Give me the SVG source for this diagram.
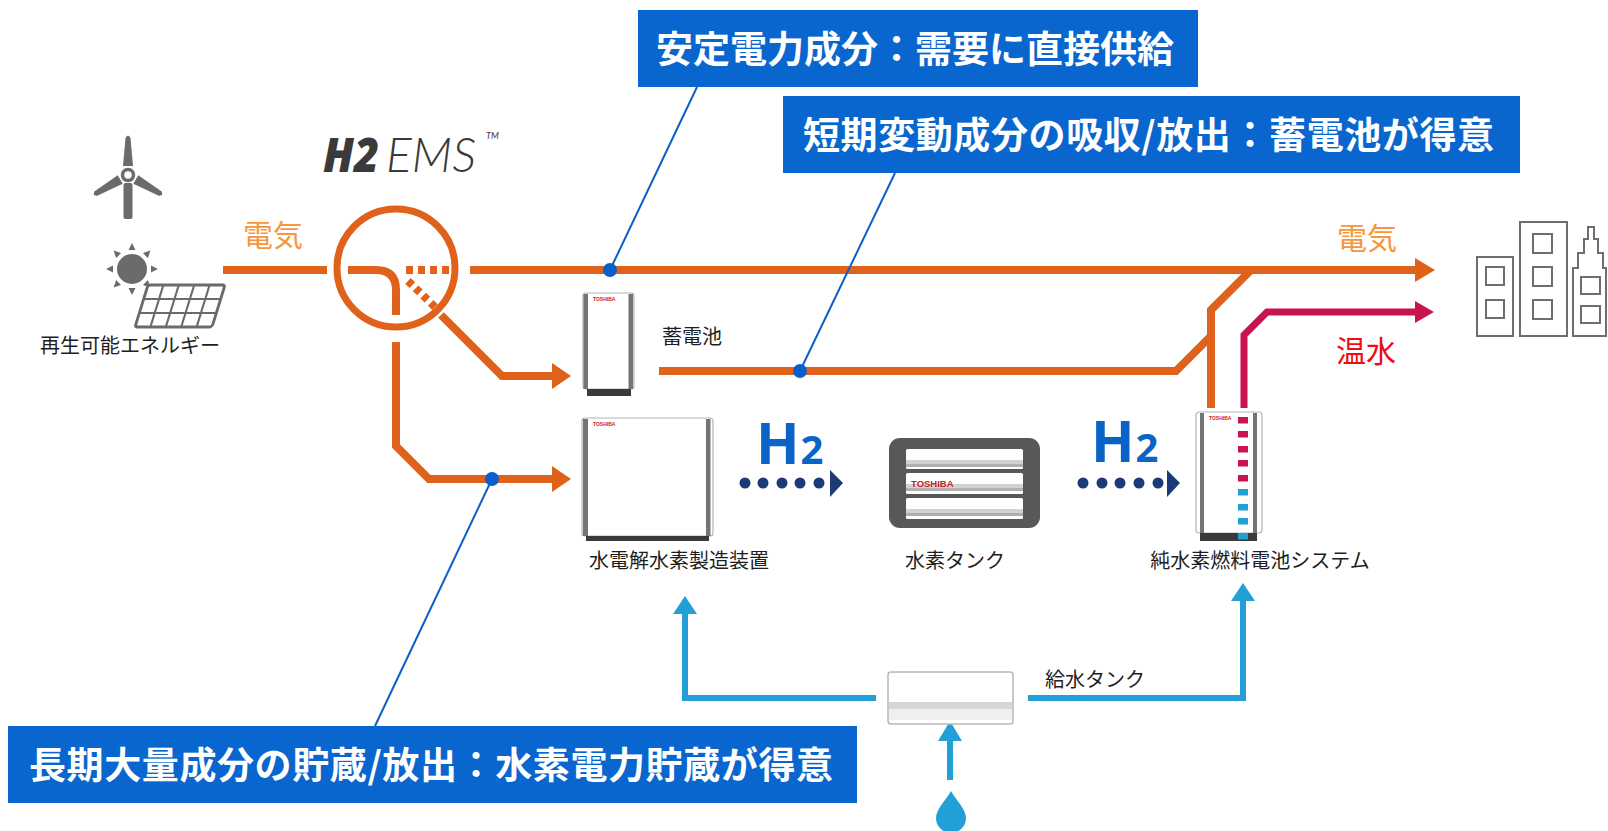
<svg xmlns="http://www.w3.org/2000/svg" width="1608" height="831" viewBox="0 0 1608 831">
  <style>
    .jp { font-family: "Noto Sans CJK JP", "Noto Sans", sans-serif; }
    .lbl { font-family: "Noto Sans CJK JP", sans-serif; font-size: 20px; fill: #1e1e1e; }
    .call { font-family: "Noto Sans CJK JP", sans-serif; font-size: 37px; font-weight: 700; fill: #ffffff; }
    .callbox { fill: #0966ce; }
    .callline { stroke: #0a5fc8; stroke-width: 2; fill: none; }
    .calldot { fill: #0a5fc8; }
    .elec { stroke: #e0621a; stroke-width: 8; fill: none; stroke-linejoin: miter; }
    .elecfill { fill: #e0621a; }
    .hot { stroke: #c8154e; stroke-width: 7; fill: none; }
    .hotfill { fill: #c8154e; }
    .water { stroke: #239fd8; stroke-width: 6; fill: none; }
    .waterfill { fill: #239fd8; }
    .icon { fill: #6b6b6b; }
    .bld { fill: #ffffff; stroke: #6e6e6e; stroke-width: 2; }
    .unit { fill: #ffffff; stroke: #b4b4b4; stroke-width: 1.2; }
    .strip { fill: #747474; }
    .base { fill: #3a3a3a; }
    .logo { font-family: "Liberation Sans", Arial, sans-serif; font-size: 5px; font-weight: 700; fill: #d0202a; }
    .h2 { font-family: "Noto Sans", "Open Sans", sans-serif; font-weight: 700; fill: #0a64c8; }
    .flow { fill: #1b3a78; }
  </style>

  <!-- connectors -->
  <g id="connectors">
    <!-- electricity in -->
    <line class="elec" x1="223" y1="270" x2="327" y2="270"/>
    <!-- electricity to demand -->
    <line class="elec" x1="470" y1="270" x2="1416" y2="270"/>
    <polygon class="elecfill" points="1415,258 1435,270 1415,282"/>
    <!-- to battery -->
    <polyline class="elec" points="441,315 502,376 553,376"/>
    <polygon class="elecfill" points="552,363 571,376 552,389"/>
    <!-- to electrolyzer -->
    <polyline class="elec" points="396,342 396,446 429,479 553,479"/>
    <polygon class="elecfill" points="552,466 571,479 552,492"/>
    <!-- battery output -->
    <polyline class="elec" points="659,371 1176,371 1211,336"/>
    <!-- fuel cell electricity -->
    <polyline class="elec" points="1211,408 1211,310 1251,270"/>
    <!-- fuel cell hot water -->
    <polyline class="hot" points="1244,408 1244,335 1267,312 1416,312"/>
    <polygon class="hotfill" points="1415,301 1434,312 1415,323"/>

    <!-- water supply -->
    <polyline class="water" points="876,698 685,698 685,612"/>
    <polygon class="waterfill" points="673,614 685,596 697,614"/>
    <polyline class="water" points="1028,698 1243,698 1243,599"/>
    <polygon class="waterfill" points="1231,601 1243,583 1255,601"/>
    <line class="water" x1="950" y1="780" x2="950" y2="739"/>
    <polygon class="waterfill" points="938,741 950,721 962,741"/>

    <!-- hydrogen flows -->
    <g class="flow">
      <circle cx="745" cy="483" r="5.5"/>
      <circle cx="763" cy="483" r="5.5"/>
      <circle cx="782" cy="483" r="5.5"/>
      <circle cx="800" cy="483" r="5.5"/>
      <circle cx="819" cy="483" r="5.5"/>
      <polygon points="830,470 843,483 830,497"/>
      <circle cx="1083" cy="483" r="5.5"/>
      <circle cx="1102" cy="483" r="5.5"/>
      <circle cx="1120" cy="483" r="5.5"/>
      <circle cx="1139" cy="483" r="5.5"/>
      <circle cx="1158" cy="483" r="5.5"/>
      <polygon points="1167,470 1180,483 1167,497"/>
    </g>
    <text class="h2" x="756" y="464"><tspan font-size="57">H</tspan><tspan font-size="40" dx="1">2</tspan></text>
    <text class="h2" x="1091" y="462"><tspan font-size="57">H</tspan><tspan font-size="40" dx="1">2</tspan></text>

    <!-- labels on lines -->
    <text class="jp" x="243" y="246" font-size="30" fill="#f7963c">電気</text>
    <text class="jp" x="1337" y="249" font-size="30" fill="#f7963c">電気</text>
    <text class="jp" x="1336" y="362" font-size="30" fill="#f00a14">温水</text>
    <text class="lbl" x="1045" y="687" font-size="18">給水タンク</text>

    <!-- callout leaders -->
    <line class="callline" x1="697" y1="87" x2="610" y2="270"/>
    <circle class="calldot" cx="610" cy="270" r="7"/>
    <line class="callline" x1="895" y1="173" x2="800" y2="371"/>
    <circle class="calldot" cx="800" cy="371" r="7"/>
    <line class="callline" x1="375" y1="726" x2="492" y2="479"/>
    <circle class="calldot" cx="492" cy="479" r="7"/>
  </g>

  <!-- renewable sources -->
  <g id="renewable">
    <rect class="icon" x="123.5" y="183" width="9" height="36" rx="2"/>
    <g transform="translate(128,175)">
      <path class="icon" d="M-5,-9 L-2.5,-37 Q0,-42 2.5,-37 L5,-9 Z"/>
      <path class="icon" d="M-5,-9 L-2.5,-37 Q0,-42 2.5,-37 L5,-9 Z" transform="rotate(120)"/>
      <path class="icon" d="M-5,-9 L-2.5,-37 Q0,-42 2.5,-37 L5,-9 Z" transform="rotate(-120)"/>
      <circle r="5.5" fill="#ffffff" stroke="#6b6b6b" stroke-width="3.5"/>
    </g>
    <g transform="translate(132,269)">
      <circle class="icon" r="15"/>
      <g class="icon">
        <polygon points="-3.5,-19 3.5,-19 0,-26"/>
        <polygon points="-3.5,-19 3.5,-19 0,-26" transform="rotate(45)"/>
        <polygon points="-3.5,-19 3.5,-19 0,-26" transform="rotate(90)"/>
        <polygon points="-3.5,-19 3.5,-19 0,-26" transform="rotate(135)"/>
        <polygon points="-3.5,-19 3.5,-19 0,-26" transform="rotate(180)"/>
        <polygon points="-3.5,-19 3.5,-19 0,-26" transform="rotate(225)"/>
        <polygon points="-3.5,-19 3.5,-19 0,-26" transform="rotate(270)"/>
        <polygon points="-3.5,-19 3.5,-19 0,-26" transform="rotate(315)"/>
      </g>
    </g>
    <g transform="translate(135,327) skewX(-17.2)">
      <rect x="0" y="-42" width="77" height="42" rx="2.5" fill="#ffffff" stroke="#6b6b6b" stroke-width="3"/>
      <g fill="none" stroke="#6b6b6b" stroke-width="2.2">
        <line x1="15.4" y1="-42" x2="15.4" y2="0"/>
        <line x1="30.8" y1="-42" x2="30.8" y2="0"/>
        <line x1="46.2" y1="-42" x2="46.2" y2="0"/>
        <line x1="61.6" y1="-42" x2="61.6" y2="0"/>
        <line x1="0" y1="-28" x2="77" y2="-28"/>
        <line x1="0" y1="-14" x2="77" y2="-14"/>
      </g>
    </g>
    <text class="lbl" x="130" y="353" font-size="19" text-anchor="middle">再生可能エネルギー</text>
  </g>

  <!-- energy management switch -->
  <g id="h2ems">
    <text x="323" y="172" font-family="'Open Sans', Lato, sans-serif" font-style="italic" font-weight="800" font-size="48" fill="#3a3a3a" textLength="56" lengthAdjust="spacingAndGlyphs">H2</text>
    <text x="386" y="172" font-family="Lato, 'Open Sans', sans-serif" font-style="italic" font-weight="300" font-size="48" fill="#3a3a3a" textLength="90" lengthAdjust="spacingAndGlyphs">EMS</text>
    <text x="486" y="139" font-family="Lato, 'Liberation Sans', sans-serif" font-style="italic" font-size="9" fill="#3a3a3a">TM</text>
    <circle cx="396" cy="268" r="59" fill="none" stroke="#e0621a" stroke-width="7"/>
    <path class="elec" d="M348,270 H376 Q396,270 396,290 V315"/>
    <line x1="406" y1="270" x2="453" y2="270" stroke="#e0621a" stroke-width="8" stroke-dasharray="7,5"/>
    <line x1="408" y1="281" x2="436" y2="308" stroke="#e0621a" stroke-width="8" stroke-dasharray="6,4.5"/>
  </g>

  <!-- storage battery -->
  <g id="battery">
    <rect class="unit" x="583" y="293" width="51" height="96" rx="3"/>
    <rect class="strip" x="583.5" y="294" width="4.5" height="95"/>
    <rect class="strip" x="628.5" y="294" width="4.5" height="95"/>
    <rect class="base" x="587" y="389" width="44" height="7"/>
    <text class="logo" x="593" y="301">TOSHIBA</text>
    <text class="lbl" x="662" y="344">蓄電池</text>
  </g>

  <!-- electrolyzer -->
  <g id="electrolyzer">
    <rect class="unit" x="582" y="418" width="131" height="118" rx="3"/>
    <rect class="strip" x="583" y="419" width="5" height="117"/>
    <rect class="strip" x="706" y="419" width="4.5" height="117"/>
    <rect class="base" x="586" y="536" width="123" height="5"/>
    <text class="logo" x="593" y="426">TOSHIBA</text>
    <text class="lbl" x="679" y="568" text-anchor="middle">水電解水素製造装置</text>
  </g>

  <!-- hydrogen tank -->
  <g id="h2tank">
    <rect x="889" y="438" width="151" height="90" rx="11" fill="#5a5856"/>
    <g>
      <rect x="906" y="449" width="117" height="20" rx="1.5" fill="#ffffff"/>
      <rect x="906" y="460" width="117" height="4" fill="#d2d2d2"/>
      <rect x="906" y="464" width="117" height="3" fill="#b0b0b0"/>
      <rect x="906" y="473" width="117" height="21" rx="1.5" fill="#ffffff"/>
      <rect x="906" y="484" width="117" height="4" fill="#d2d2d2"/>
      <rect x="906" y="488" width="117" height="3" fill="#b0b0b0"/>
      <rect x="906" y="498" width="117" height="21" rx="1.5" fill="#ffffff"/>
      <rect x="906" y="509" width="117" height="4" fill="#d2d2d2"/>
      <rect x="906" y="513" width="117" height="3" fill="#b0b0b0"/>
    </g>
    <text x="911" y="487" font-family="'Liberation Sans', Arial, sans-serif" font-size="9.5" font-weight="700" fill="#c8202a">TOSHIBA</text>
    <text class="lbl" x="955" y="568" text-anchor="middle">水素タンク</text>
  </g>

  <!-- fuel cell system -->
  <g id="fuelcell">
    <rect class="unit" x="1196" y="412" width="66" height="121" rx="3"/>
    <rect class="strip" x="1200" y="413" width="4" height="120"/>
    <rect class="strip" x="1253" y="413" width="4" height="120"/>
    <rect class="base" x="1200" y="533" width="57" height="8"/>
    <text class="logo" x="1209" y="420">TOSHIBA</text>
    <g class="hotfill">
      <rect x="1238" y="417" width="10" height="6.5"/>
      <rect x="1238" y="431" width="10" height="6.5"/>
      <rect x="1238" y="446" width="10" height="6.5"/>
      <rect x="1238" y="460" width="10" height="6.5"/>
      <rect x="1238" y="475" width="10" height="6.5"/>
    </g>
    <g class="waterfill">
      <rect x="1238" y="489" width="10" height="6.5"/>
      <rect x="1238" y="504" width="10" height="6.5"/>
      <rect x="1238" y="518" width="10" height="6.5"/>
      <rect x="1238" y="533" width="10" height="6.5"/>
    </g>
    <text class="lbl" x="1260" y="568" text-anchor="middle">純水素燃料電池システム</text>
  </g>

  <!-- water supply tank -->
  <g id="watertank">
    <rect x="888" y="672" width="125" height="52" rx="3" fill="#ffffff" stroke="#b8b8b8" stroke-width="1.5"/>
    <rect x="889" y="702" width="123" height="7" fill="#d6d6d6"/>
    <rect x="889" y="709" width="123" height="11" fill="#efefef"/>
    <path class="waterfill" d="M951,791 C946,800 936,809 936,818 A15,15 0 0 0 966,818 C966,809 956,800 951,791 Z"/>
  </g>

  <!-- demand side buildings -->
  <g id="buildings">
    <rect class="bld" x="1477" y="257" width="36" height="79"/>
    <rect class="bld" x="1486" y="267" width="18" height="18"/>
    <rect class="bld" x="1486" y="300" width="18" height="18"/>
    <rect class="bld" x="1520" y="222" width="47" height="114"/>
    <rect class="bld" x="1533" y="234" width="19" height="19"/>
    <rect class="bld" x="1533" y="267" width="19" height="19"/>
    <rect class="bld" x="1533" y="300" width="19" height="19"/>
    <path class="bld" d="M1573,336 V268 H1578 V253 H1584 V239 H1588 V227 H1594 V239 H1598 V253 H1603 V268 H1606 V336 Z"/>
    <rect class="bld" x="1581" y="277" width="19" height="17"/>
    <rect class="bld" x="1581" y="306" width="19" height="17"/>
  </g>

  <!-- callouts -->
  <g id="callout-stable">
    <rect class="callbox" x="638" y="10" width="560" height="77"/>
    <text class="call" x="656" y="63" textLength="518" lengthAdjust="spacing">安定電力成分：需要に直接供給</text>
  </g>
  <g id="callout-short">
    <rect class="callbox" x="783" y="96" width="737" height="77"/>
    <text class="call" x="803" y="149" textLength="691" lengthAdjust="spacing">短期変動成分の吸収/放出：蓄電池が得意</text>
  </g>
  <g id="callout-long">
    <rect class="callbox" x="8" y="726" width="849" height="77"/>
    <text class="call" x="29" y="779" textLength="804" lengthAdjust="spacing">長期大量成分の貯蔵/放出：水素電力貯蔵が得意</text>
  </g>
</svg>
